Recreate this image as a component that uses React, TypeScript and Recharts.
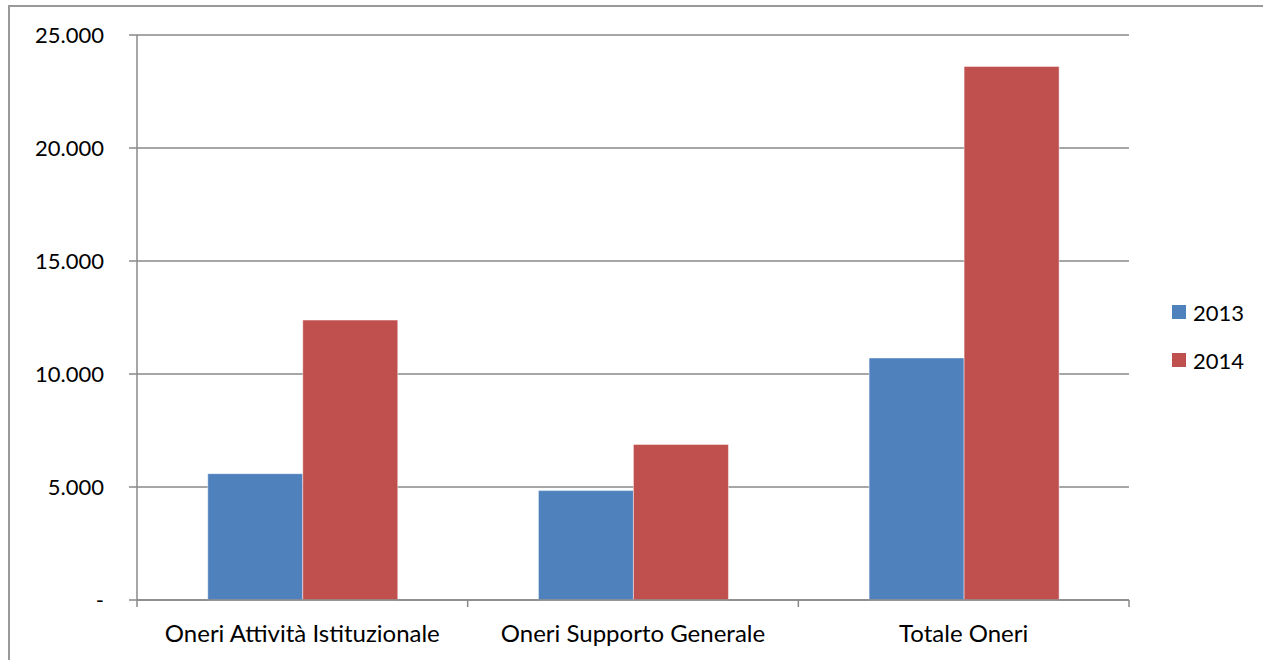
import { BarChart, Bar, XAxis, YAxis, CartesianGrid } from "recharts";

const categories = ["Oneri Attività Istituzionale", "Oneri Supporto Generale", "Totale Oneri"];
const values2013 = [5590, 4840, 10710];
const values2014 = [12385, 6884, 23610];
const seriesNames = ["2013", "2014"];
const seriesColors = ["#4F81BD", "#C0504D"];
const yTicks = [0, 5000, 10000, 15000, 20000, 25000];

const data = categories.map((name, i) => ({
  name,
  [seriesNames[0]]: values2013[i],
  [seriesNames[1]]: values2014[i],
}));

const W = 1263;
const H = 660;
const AXIS = "#888888";
const FONT = "Lato, sans-serif";

const fmt = (v: number) =>
  v === 0 ? "-" : String(v).replace(/\B(?=(\d{3})+(?!\d))/g, ".");

const CategoryTick = (props: any) => {
  const { x, y, payload, index, width } = props;
  const band = (typeof width === "number" ? width : W - 137 - 134) / categories.length;
  const left = x - band / 2;
  return (
    <g>
      <line x1={left} y1={y} x2={left} y2={y + 7} stroke={AXIS} strokeWidth={1.5} />
      {index === categories.length - 1 && (
        <line x1={left + band} y1={y} x2={left + band} y2={y + 7} stroke={AXIS} strokeWidth={1.5} />
      )}
      <text x={x} y={y + 42} textAnchor="middle" fill="#000" fontSize={24}>
        {payload.value}
      </text>
    </g>
  );
};

export default function App() {
  return (
    <div style={{ position: "absolute", left: 0, top: 0, width: W, height: H, background: "#fff", fontFamily: FONT, overflow: "hidden" }}>
      <div
        style={{
          position: "absolute",
          left: 8,
          top: 5,
          right: -10,
          bottom: -10,
          borderTop: "2px solid #999",
          borderLeft: "2px solid #999",
        }}
      />
      <BarChart
        width={W}
        height={H}
        data={data}
        margin={{ top: 35, right: 134, bottom: 0, left: 0 }}
        barCategoryGap="21.4%"
        barGap={0}
      >
        <CartesianGrid vertical={false} stroke={AXIS} strokeWidth={1.5} />
        <XAxis
          dataKey="name"
          height={60}
          interval={0}
          tickLine={false}
          tickSize={0}
          tickMargin={0}
          axisLine={{ stroke: AXIS, strokeWidth: 1.5 }}
          tick={<CategoryTick />}
        />
        <YAxis
          width={137}
          domain={[0, 25000]}
          ticks={yTicks}
          tickFormatter={fmt}
          tickSize={8}
          tickMargin={25}
          tickLine={{ stroke: AXIS, strokeWidth: 1.5 }}
          axisLine={{ stroke: AXIS, strokeWidth: 1.5 }}
          tick={{ fill: "#000", fontSize: 22 }}
        />
        {seriesNames.map((s, i) => (
          <Bar key={s} dataKey={s} fill={seriesColors[i]} stroke="rgba(255,255,255,0.45)" strokeWidth={1} isAnimationActive={false} />
        ))}
      </BarChart>
      <div style={{ position: "absolute", left: 1172, top: 288, fontSize: 22, color: "#000" }}>
        {seriesNames.map((s, i) => (
          <div key={s} style={{ display: "flex", alignItems: "center", height: 48 }}>
            <span style={{ width: 14, height: 14, background: seriesColors[i], marginRight: 7 }} />
            <span>{s}</span>
          </div>
        ))}
      </div>
    </div>
  );
}
